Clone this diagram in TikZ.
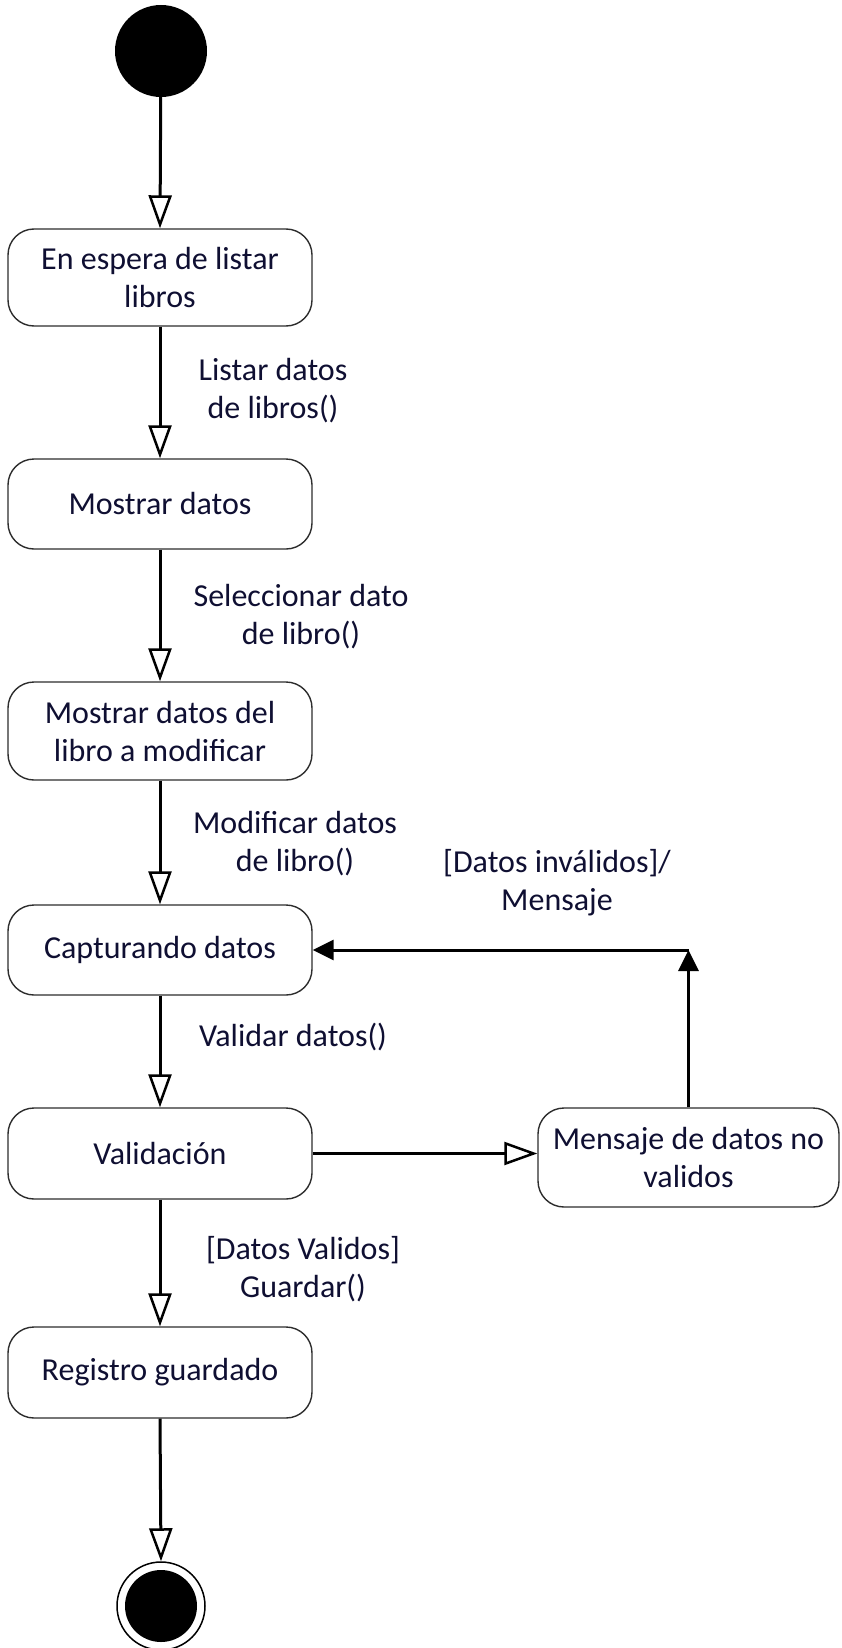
\documentclass[tikz,border=0pt]{standalone}
\usepackage{fontspec}
\setmainfont{Carlito}
\usetikzlibrary{arrows.meta}
\definecolor{txt}{RGB}{15,15,50}
\definecolor{bord}{RGB}{45,45,45}
\begin{document}
\begin{tikzpicture}[x=1pt,y=-1pt,
  stt/.style={draw=bord, line width=1.4pt, rounded corners=26pt, minimum width=304pt,
    inner sep=0pt, align=center, text=txt, font=\fontsize{32}{38}\selectfont},
  lbl/.style={text=txt, align=center, inner sep=0pt, font=\fontsize{32}{38}\selectfont},
  conn/.style={line width=3pt, -{Triangle[open, length=33pt, width=23pt, line width=2.5pt]}},
  fconn/.style={line width=3pt, -{Triangle[length=21pt, width=20pt]}}
]
\useasboundingbox (0,0) rectangle (841,1648);
\node[circle, fill=black, minimum size=92pt, inner sep=0pt] (start) at (161,51) {};
\node[stt, minimum height=97pt] (b1) at (160,277.5) {En espera de listar\\libros};
\node[stt, minimum height=90pt] (b2) at (160,504) {Mostrar datos};
\node[stt, minimum height=98pt] (b3) at (160,731) {Mostrar datos del\\libro a modificar};
\node[stt, minimum height=90pt] (b4) at (160,950) {Capturando datos};
\node[stt, minimum height=91pt] (b5) at (160,1153.5) {Validación};
\node[stt, minimum height=91pt] (b6) at (160,1372.5) {Registro guardado};
\node[stt, minimum height=99pt, minimum width=301pt] (msg) at (688.5,1157.5) {Mensaje de datos no\\validos};
\node[circle, draw=black, line width=1.5pt, minimum size=88pt, inner sep=0pt] (endo) at (161,1606) {};
\node[circle, fill=black, minimum size=72pt, inner sep=0pt] (endi) at (161,1606) {};

\node[lbl] (l1) at (273,391) {Listar datos\\de libros()};
\node[lbl] (l2) at (301,617) {Seleccionar dato\\de libro()};
\node[lbl] (l3) at (295,844) {Modificar datos\\de libro()};
\node[lbl] (l4) at (557,883) {[Datos inválidos]/\\Mensaje};
\node[lbl] (l5) at (293,1037) {Validar datos()};
\node[lbl] (l6) at (303,1269) {[Datos Validos]\\Guardar()};

\draw[conn] (start) -- (b1.north);
\draw[conn] (b1.south) -- (b2.north);
\draw[conn] (b2.south) -- (b3.north);
\draw[conn] (b3.south) -- (b4.north);
\draw[conn] (b4.south) -- (b5.north);
\draw[conn] (b5.south) -- (b6.north);
\draw[conn] (b6.south) -- (endo.north);
\draw[conn] (b5.east) -- (b5.east -| msg.west);
\coordinate (corner) at (msg.north |- b4.east);
\draw[fconn] (msg.north) -- (corner);
\draw[fconn] (corner) -- (b4.east);
\end{tikzpicture}
\end{document}
